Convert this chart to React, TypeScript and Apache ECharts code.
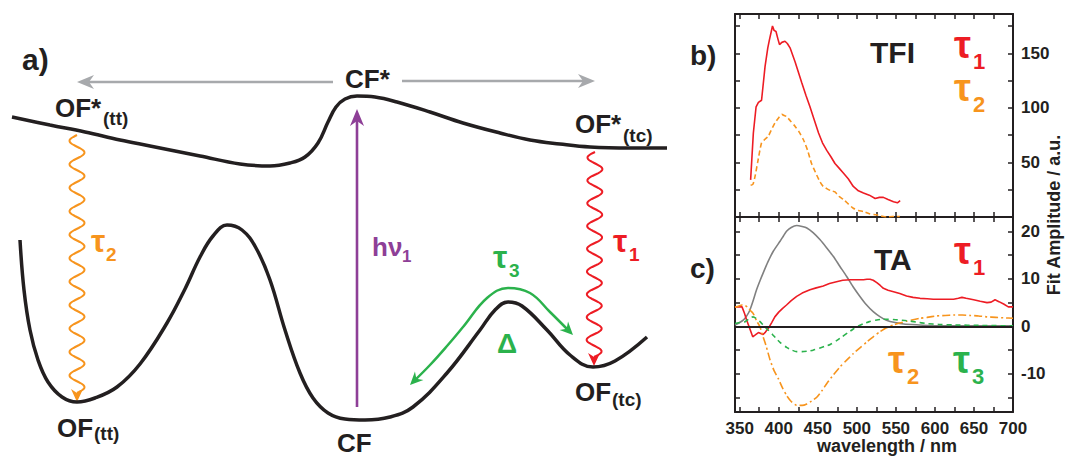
import React, { useEffect, useRef } from "react";
import * as echarts from "echarts";

const INK = "#231f20";
const RED = "#ed1c24";
const ORANGE = "#f7941d";
const GREEN = "#2bb24c";
const PURPLE = "#8e3f97";
const GRAY_ARROW = "#a7a9ac";
const GRAY = "#808080";
const FONT = "Liberation Sans";

// ---------- panel a: schematic potential surfaces (schematic units) ----------
const upperSurface = [
  [12, 117], [50, 125], [85, 132], [120, 140], [150, 146], [200, 156], [240, 164], [270, 166],
  [290, 163], [305, 157], [318, 143], [328, 122], [336, 107], [345, 99], [357, 96], [375, 97],
  [397, 102], [430, 112], [463, 123], [500, 133], [530, 140], [560, 144], [590, 147], [630, 148], [667, 148],
];
const lowerSurface = [
  [20, 240], [24, 290], [30, 330], [38, 360], [48, 382], [62, 397], [77, 402], [95, 398], [117, 387],
  [140, 364], [167, 323], [185, 289], [200, 257], [213, 236], [227, 225], [242, 230], [256, 248],
  [270, 280], [285, 330], [300, 373], [313, 398], [328, 413], [345, 419], [365, 420], [390, 417],
  [413, 407], [447, 373], [480, 330], [495, 310], [508, 302], [522, 306], [547, 330], [570, 355],
  [593, 367], [615, 361], [647, 337],
];
const tau3Path = [
  [414, 381], [430, 365], [447, 346], [463, 327], [487, 298], [508, 288], [530, 293], [550, 312], [569, 331],
];
// arrows: [x1, y1, x2 (tip), y2 (tip)]
const arrowSegments = [
  [333, 82, 77, 82],
  [402, 81, 595, 81],
  [357, 407, 357, 109],
  [77, 135, 77, 402],
  [595, 152, 594, 366],
  [430, 365, 410, 385],
  [550, 312, 573, 335],
];
const arrowKinds = ["straight", "straight", "straight", "wavy", "wavy", "head", "head"];
const arrowColors = [GRAY_ARROW, GRAY_ARROW, PURPLE, ORANGE, RED, GREEN, GREEN];

// ---------- panel b: TFI fit amplitudes ----------
const tfiTau1 = [
  [364, 34], [367.5, 77], [371, 101], [374, 105], [378, 107], [382.5, 138], [386, 155], [388, 162],
  [392, 175], [394, 171], [396.5, 170], [399, 163], [401, 158], [404, 160], [408, 161], [411, 159],
  [414.5, 155], [421, 142], [429.5, 123], [435, 111], [440, 101], [445, 90], [451, 77], [456, 68],
  [461.5, 61], [467, 55], [472, 49], [477, 45], [483, 40], [489, 35], [495.5, 28], [502, 24],
  [508.5, 22], [516, 20], [523.5, 17], [529, 18], [534, 18], [540, 16], [547, 14], [552, 13], [555.5, 15],
];
const tfiTau2 = [
  [364, 29], [367, 30], [369.6, 37], [373, 50], [378, 68], [382, 71], [386.7, 74], [390, 79], [395, 86],
  [400, 91], [404, 94], [407, 93], [410, 92], [415, 88], [421, 83], [426, 78], [431.5, 71], [437, 61],
  [442, 49], [447, 41], [453, 32], [457, 28], [461.5, 26], [467, 24], [472, 23], [477, 19], [483, 16],
  [489, 12], [495.5, 8], [502, 6], [508.5, 5], [516, 3], [525, 2], [531, 1], [538, 0], [546, 0.5], [555, 0.5],
];

// ---------- panel c: TA fit amplitudes ----------
const taGray = [
  [344, 0.3], [349, 0.7], [354.6, 1.3], [359, 2.2], [363, 3.4], [367, 5.3], [371.6, 7.7], [376, 9.6],
  [380, 11.2], [386, 13.5], [393, 15.8], [401.7, 17.9], [406, 19], [410, 20], [416, 20.8], [423, 21.2],
  [430, 21.0], [436, 20.7], [444, 19.7], [453, 18.2], [461, 16.6], [470, 14.7], [478, 12.7], [487, 10.5],
  [495, 8.4], [504, 6.3], [512, 4.6], [521, 3.1], [530, 2.0], [538, 1.3], [549, 0.8], [560, 0.5],
  [580, 0.3], [603, 0.1], [650, 0.1], [700, 0.1],
];
const taTau1 = [
  [344, 4.1], [353, 4.1], [356, 2.8], [359, 1.3], [363, -0.5], [366.7, -2.2], [370, -1.8], [374, -1.3],
  [377, -1.5], [380, -1.7], [383, -1.2], [386.7, -0.4], [391, 0.8], [395, 2], [400, 3], [405, 3.8],
  [410, 4.5], [416, 5.4], [423, 6.3], [430, 7], [440, 7.7], [448, 8.1], [457, 8.5], [465, 9], [474, 9.4],
  [482, 9.7], [491.5, 9.8], [500, 9.8], [508.5, 9.8], [513, 9.9], [517, 9.9], [521, 9.7], [525.6, 9.2],
  [530, 8.6], [534, 8.0], [540, 7.6], [547, 7.3], [555, 6.9], [563.7, 6.4], [572, 6.1], [581, 5.9],
  [590, 5.8], [598, 5.7], [607, 5.7], [615.6, 5.7], [624, 5.7], [630, 5.9], [634.6, 6.1], [640, 5.9],
  [649.6, 5.6], [658, 5.3], [666.7, 5.0], [672, 5.1], [677, 5.6], [682, 5.2], [688, 4.7], [694, 4.1], [700, 4.1],
];
const taTau2 = [
  [344, 4.0], [349, 4.3], [353, 4.5], [357, 4.4], [360, 4.0], [364, 3.3], [367.4, 2.7], [371.6, 1.2],
  [376, -0.1], [380, -2.2], [384, -4.2], [389, -7.1], [394, -9.3], [399.5, -11], [405, -13], [410, -14.5],
  [416, -15.8], [423, -16.6], [430, -16.6], [436, -16.3], [442, -15.7], [448.7, -14.9], [455, -13.6],
  [461.6, -12], [470, -10.2], [478.6, -8.5], [487, -7.1], [495.6, -5.7], [504, -4.5], [512.6, -3.3],
  [521, -2.2], [529.7, -1.1], [538, -0.3], [547, 0.3], [555, 0.7], [563.7, 1.1], [572, 1.4], [581, 1.7],
  [590, 1.9], [602, 2.2], [613, 2.3], [624, 2.4], [635, 2.4], [645, 2.3], [656, 2.2], [667, 2.0],
  [678, 1.9], [688, 1.8], [700, 1.7],
];
const taTau3 = [
  [344, 0.6], [350, 0.8], [357, 1.0], [362, 1.6], [367, 2.0], [371, 1.7], [376, 1.0], [381, 0.1],
  [386.7, -0.8], [392, -1.7], [397, -2.6], [402, -3.4], [410, -4.4], [417, -5.0], [423, -5.3], [430, -5.3],
  [437, -5.2], [444, -5.0], [452, -4.6], [459, -4.2], [466, -3.8], [474, -3.0], [481, -2.2], [488, -1.4],
  [495, -0.6], [502, 0.1], [509, 0.6], [516, 1.0], [524, 1.3], [532, 1.5], [540, 1.5], [550, 1.4],
  [564, 1.2], [577, 0.9], [589, 0.6], [605, 0.4], [624, 0.3], [660, 0.2], [700, 0.1],
];

// ---------- axes ----------
const wlTicks = [350, 375, 400, 425, 450, 475, 500, 525, 550, 575, 600, 625, 650, 675, 700];
const wlLabels = [350, 400, 450, 500, 550, 600, 650, 700];
const tfiTicks = [25, 50, 75, 100, 125, 150, 175];
const tfiLabels = [50, 100, 150];
const taTicks = [-15, -10, -5, 0, 5, 10, 15, 20];
const taLabels = [-10, 0, 10, 20];

export default function App() {
  const ref = useRef<HTMLDivElement>(null);
  useEffect(() => {
    if (!ref.current) return;
    const chart = echarts.init(ref.current, null, { renderer: "svg" });

    const labelStyle = { color: INK, fontSize: 17, fontWeight: "bold", fontFamily: FONT };
    const frameX = (gridIndex: number, position: string, showLabel: boolean) => ({
      type: "value", gridIndex, position, min: 344, max: 700,
      axisLine: { show: true, onZero: false, lineStyle: { color: INK, width: 2 } },
      axisTick: { show: true, inside: true, length: 5, customValues: wlTicks, lineStyle: { color: INK, width: 1.5 } },
      axisLabel: { show: showLabel, customValues: wlLabels, margin: 8, ...labelStyle },
      splitLine: { show: false },
    });
    const frameY = (gridIndex: number, position: string, showLabel: boolean, min: number, max: number, ticks: number[], labels: number[]) => ({
      type: "value", gridIndex, position, min, max,
      axisLine: { show: true, onZero: false, lineStyle: { color: INK, width: 2 } },
      axisTick: { show: true, inside: true, length: 5, customValues: ticks, lineStyle: { color: INK, width: 1.5 } },
      axisLabel: { show: showLabel, customValues: labels, margin: 8, ...labelStyle },
      splitLine: { show: false },
    });

    const txt = (x: number, y: number, text: string, color: string, size: number, extra: any = {}) => ({
      type: "text", x, y, ...extra,
      style: { text, fill: color, fontSize: size, fontWeight: "bold", fontFamily: FONT, align: "left", verticalAlign: "middle", ...(extra.style || {}) },
    });
    const tau = (x: number, y: number, sub: string, color: string, size: number, subSize: number, dx: number) => [
      txt(x, y - size * 0.2, "\u03c4", color, size),
      txt(x + dx, y + size * 0.22, sub, color, subSize),
    ];

    const lineSeries = (data: number[][], axis: number, color: string, type: any, width = 1.6, smooth: any = false) => ({
      type: "line", xAxisIndex: axis, yAxisIndex: axis, data, symbol: "none", smooth,
      lineStyle: { color, width, type }, silent: true,
    });

    chart.setOption({
      animation: false,
      backgroundColor: "#ffffff",
      grid: [
        { left: 0, top: 0, width: 700, height: 457, outerBoundsMode: "none" },
        { left: 735, top: 14, width: 278, height: 203, outerBoundsMode: "none" },
        { left: 735, top: 217, width: 278, height: 195, outerBoundsMode: "none" },
      ],
      xAxis: [
        { type: "value", gridIndex: 0, min: 0, max: 700, show: false },
        frameX(1, "bottom", false),
        frameX(1, "top", false),
        frameX(2, "bottom", true),
        frameX(2, "top", false),
      ],
      yAxis: [
        { type: "value", gridIndex: 0, min: 0, max: 457, inverse: true, show: false },
        frameY(1, "right", true, 0, 186, tfiTicks, tfiLabels),
        frameY(1, "left", false, 0, 186, tfiTicks, tfiLabels),
        frameY(2, "right", true, -18, 23, taTicks, taLabels),
        frameY(2, "left", false, -18, 23, taTicks, taLabels),
      ],
      series: [
        lineSeries(upperSurface, 0, INK, "solid", 3.5, 0.4),
        lineSeries(lowerSurface, 0, INK, "solid", 3.5, 0.4),
        lineSeries(tau3Path, 0, GREEN, "solid", 2.5, 0.4),
        {
          type: "custom", xAxisIndex: 0, yAxisIndex: 0, silent: true, clip: false,
          data: arrowSegments,
          encode: { x: [0, 2], y: [1, 3] },
          renderItem: (params: any, api: any) => {
            const i = params.dataIndex;
            const kind = arrowKinds[i];
            const color = arrowColors[i];
            const p1 = api.coord([api.value(0), api.value(1)]);
            const p2 = api.coord([api.value(2), api.value(3)]);
            let dx = p2[0] - p1[0], dy = p2[1] - p1[1];
            const len = Math.hypot(dx, dy); dx /= len; dy /= len;
            const nx = -dy, ny = dx;
            const L = kind === "straight" ? 17 : 13;
            const W = kind === "straight" ? 7 : 6;
            const N = kind === "straight" ? 5 : 4;
            const bx = p2[0] - (L - N) * dx, by = p2[1] - (L - N) * dy;
            const head = {
              type: "polygon",
              shape: { points: [[p2[0], p2[1]], [p2[0] - L * dx + W * nx, p2[1] - L * dy + W * ny], [bx, by], [p2[0] - L * dx - W * nx, p2[1] - L * dy - W * ny]] },
              style: { fill: color },
            };
            const children: any[] = [];
            if (kind === "straight") {
              children.push({ type: "line", shape: { x1: p1[0], y1: p1[1], x2: bx, y2: by }, style: { stroke: color, lineWidth: 2.6 } });
            } else if (kind === "wavy") {
              const total = Math.hypot(bx - p1[0], by - p1[1]);
              const cycles = Math.round((total / 23) * 2) / 2;
              const wave = total / cycles;
              const pts: number[][] = [];
              for (let t = 0; t <= total + 0.01; t += 1) {
                const a = 7.5 * Math.sin((2 * Math.PI * t) / wave);
                pts.push([p1[0] + t * dx + a * nx, p1[1] + t * dy + a * ny]);
              }
              children.push({ type: "polyline", shape: { points: pts }, style: { stroke: color, lineWidth: 2, fill: null } });
            }
            children.push(head);
            return { type: "group", children };
          },
        },
        lineSeries(tfiTau1, 1, RED, "solid", 1.6),
        lineSeries(tfiTau2, 1, ORANGE, [5, 3], 1.6, 0.2),
        {
          ...lineSeries(taGray, 3, GRAY, "solid", 1.6, 0.2),
          markLine: {
            silent: true, symbol: "none", label: { show: false },
            lineStyle: { color: INK, width: 2, type: "solid" },
            data: [{ yAxis: 0 }],
          },
        },
        lineSeries(taTau1, 3, RED, "solid", 1.6),
        lineSeries(taTau2, 3, ORANGE, [8, 3, 2, 3], 1.6, 0.2),
        lineSeries(taTau3, 3, GREEN, [5, 4], 1.6, 0.2),
      ],
      graphic: [
        txt(22, 59, "a)", INK, 30),
        txt(690, 55, "b)", INK, 28),
        txt(690, 268, "c)", INK, 28),
        txt(345, 79, "CF*", INK, 26),
        txt(55, 108, "OF*", INK, 26),
        txt(103, 118, "(tt)", INK, 19),
        txt(575, 124, "OF*", INK, 26),
        txt(623, 135, "(tc)", INK, 19),
        txt(57, 428, "OF", INK, 26),
        txt(94, 433, "(tt)", INK, 19),
        txt(575, 392, "OF", INK, 26),
        txt(612, 399, "(tc)", INK, 19),
        txt(337, 443, "CF", INK, 26),
        txt(372, 247, "h\u03bd", PURPLE, 26),
        txt(402, 256, "1", PURPLE, 17),
        ...tau(91, 247, "2", ORANGE, 32, 19, 15),
        ...tau(613, 247, "1", RED, 32, 19, 16),
        ...tau(493, 263, "3", GREEN, 32, 19, 16),
        txt(497, 343, "\u0394", GREEN, 28),
        txt(870, 52, "TFI", INK, 30),
        txt(874, 259, "TA", INK, 30),
        ...tau(954, 53, "1", RED, 38, 22, 19),
        ...tau(954, 96, "2", ORANGE, 38, 22, 19),
        ...tau(954, 259, "1", RED, 38, 22, 19),
        ...tau(888, 368, "2", ORANGE, 38, 22, 19),
        ...tau(953, 368, "3", GREEN, 38, 22, 19),
        txt(887, 446, "wavelength / nm", INK, 18, { style: { align: "center" } }),
        txt(1054, 215, "Fit Amplitude / a.u.", INK, 18, { rotation: Math.PI / 2, style: { align: "center" } }),
      ],
    });
    return () => chart.dispose();
  }, []);
  return <div ref={ref} style={{ position: "fixed", left: 0, top: 0, width: 1067, height: 457, background: "#fff" }} />;
}
